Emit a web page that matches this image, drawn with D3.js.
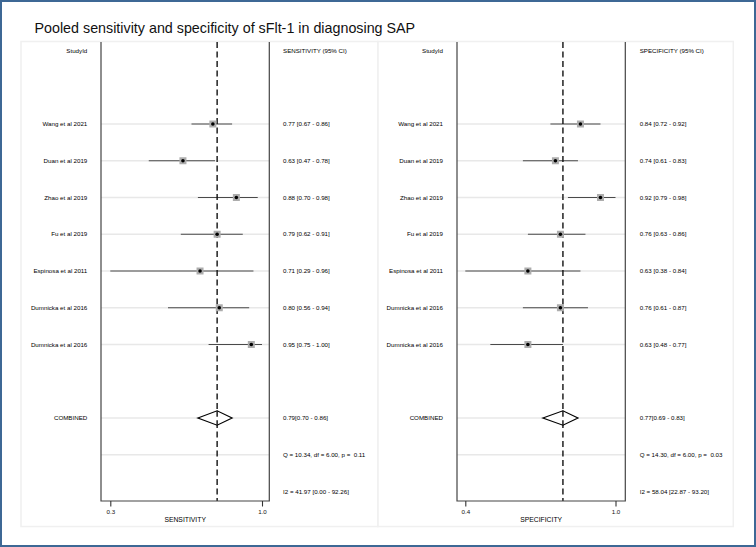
<!DOCTYPE html>
<html><head><meta charset="utf-8">
<script src="https://cdn.jsdelivr.net/npm/d3@7"></script>
<style>
body{margin:0;background:#fff;}
svg text{font-family:"Liberation Sans",Arial,Helvetica,sans-serif;white-space:pre;}
</style></head>
<body><svg id="c" width="756" height="547"></svg>
<script>
const studies = ["Wang et al 2021","Duan et al 2019","Zhao et al 2019","Fu et al 2019","Espinosa et al 2011","Dumnicka et al 2016","Dumnicka et al 2016"];
const sens   = [0.77,0.63,0.88,0.79,0.71,0.80,0.95];
const sensLo = [0.67,0.47,0.70,0.62,0.29,0.56,0.75];
const sensHi = [0.86,0.78,0.98,0.91,0.96,0.94,1.00];
const spec   = [0.84,0.74,0.92,0.76,0.63,0.76,0.63];
const specLo = [0.72,0.61,0.79,0.63,0.38,0.61,0.48];
const specHi = [0.92,0.83,0.98,0.86,0.84,0.87,0.77];
const sensPooled = [0.79,0.70,0.86];
const specPooled = [0.77,0.69,0.83];
const sensStats = ["Q = 10.34, df = 6.00, p =  0.11","I2 = 41.97 [0.00 - 92.26]"];
const specStats = ["Q = 14.30, df = 6.00, p =  0.03","I2 = 58.04 [22.87 - 93.20]"];
const sensTicks = [0.29,1.00];
const specTicks = [0.38,0.98];
const title = "Pooled sensitivity and specificity of sFlt-1 in diagnosing SAP";

const svg = d3.select("#c");
svg.append("rect").attr("x",1).attr("y",1).attr("width",754).attr("height",545)
  .attr("fill","#fff").attr("stroke","#3d6895").attr("stroke-width",2);
svg.append("text").attr("x",34.5).attr("y",33.3).attr("font-size",14.3).attr("fill","#111").text(title);

const f2 = d3.format(".2f");
const rowY = d3.scaleLinear().domain([0,12]).range([50.5,491.5]);

function panel(opt){
  const g = svg.append("g");
  g.append("rect").attr("x",opt.bx0).attr("y",41.5).attr("width",opt.bx1-opt.bx0).attr("height",485)
    .attr("fill","#fff").attr("stroke","#f0f0f0").attr("stroke-width",1.5);
  const x = d3.scaleLinear().domain(opt.ticks).range(opt.tickPx);
  const px0 = opt.px0, px1 = opt.px1, top = 42, bot = 501;
  const fs = 6.2;
  g.append("text").attr("x",opt.labX).attr("y",rowY(0)).attr("dy","0.35em").attr("text-anchor","end")
    .attr("font-size",fs).text("StudyId");
  g.append("text").attr("x",opt.txtX).attr("y",rowY(0)).attr("dy","0.35em")
    .attr("font-size",fs).text(opt.header);
  const gridRows = d3.range(2,9).concat([10,11]);
  g.selectAll(".grid").data(gridRows).join("line")
    .attr("x1",px0).attr("x2",px1).attr("y1",d=>rowY(d)).attr("y2",d=>rowY(d))
    .attr("stroke","#e8e8e8").attr("stroke-width",1.5);
  const data = studies.map((s,i)=>({s, v:opt.v[i], lo:opt.lo[i], hi:opt.hi[i], r:i+2}));
  g.selectAll(".lab").data(data).join("text")
    .attr("x",opt.labX).attr("y",d=>rowY(d.r)).attr("dy","0.35em").attr("text-anchor","end")
    .attr("font-size",fs).text(d=>d.s);
  g.selectAll(".ci").data(data).join("text")
    .attr("x",opt.txtX).attr("y",d=>rowY(d.r)).attr("dy","0.35em")
    .attr("font-size",fs).text(d=>`${f2(d.v)} [${f2(d.lo)} - ${f2(d.hi)}]`);
  g.selectAll(".ciline").data(data).join("line")
    .attr("x1",d=>x(d.lo)).attr("x2",d=>x(d.hi)).attr("y1",d=>rowY(d.r)).attr("y2",d=>rowY(d.r))
    .attr("stroke","#4a4a4a").attr("stroke-width",1.1);
  g.append("line").attr("x1",x(opt.pooled[0])).attr("x2",x(opt.pooled[0])).attr("y1",top).attr("y2",bot)
    .attr("stroke","#111").attr("stroke-width",1.4).attr("stroke-dasharray","6,3.5");
  g.selectAll(".sq").data(data).join("rect")
    .attr("x",d=>x(d.v)-3.5).attr("y",d=>rowY(d.r)-3.5).attr("width",7).attr("height",7)
    .attr("fill","#adadad");
  g.selectAll(".dot").data(data).join("circle")
    .attr("cx",d=>x(d.v)).attr("cy",d=>rowY(d.r)).attr("r",1.8).attr("fill","#000");
  const cy = rowY(10), p = opt.pooled;
  g.append("path").attr("d",`M${x(p[1])},${cy} L${x(p[0])},${cy-7.2} L${x(p[2])},${cy} L${x(p[0])},${cy+7.2} Z`)
    .attr("fill","#fff").attr("stroke","#000").attr("stroke-width",1.2);
  g.append("line").attr("x1",x(p[0])).attr("x2",x(p[0])).attr("y1",cy-7.2).attr("y2",cy+7.2)
    .attr("stroke","#111").attr("stroke-width",1.4).attr("stroke-dasharray","6,3.5");
  g.append("text").attr("x",opt.labX).attr("y",cy).attr("dy","0.35em").attr("text-anchor","end")
    .attr("font-size",fs).text("COMBINED");
  g.append("text").attr("x",opt.txtX).attr("y",cy).attr("dy","0.35em")
    .attr("font-size",fs).text(`${f2(p[0])}[${f2(p[1])} - ${f2(p[2])}]`);
  g.append("text").attr("x",opt.txtX).attr("y",rowY(11)).attr("dy","0.35em")
    .attr("font-size",fs).text(opt.stats[0]);
  g.append("text").attr("x",opt.txtX).attr("y",rowY(12)).attr("dy","0.35em")
    .attr("font-size",fs).text(opt.stats[1]);
  g.append("path").attr("d",`M${px0},${top} V${bot} H${px1} V${top}`)
    .attr("fill","none").attr("stroke","#444").attr("stroke-width",1.2);
  const ax = g.append("g").attr("transform",`translate(0,${bot})`)
    .call(d3.axisBottom(x).tickValues(opt.ticks).tickFormat(d3.format(".1f")).tickSize(5.5).tickPadding(3));
  ax.select(".domain").remove();
  ax.selectAll(".tick line").attr("stroke","#333").attr("stroke-width",1.1);
  ax.selectAll(".tick text").attr("font-size",fs).attr("fill","#111")
    .attr("font-family","\"Liberation Sans\",Arial,sans-serif");
  g.append("text").attr("x",(px0+px1)/2).attr("y",519.7).attr("dy","0.35em").attr("text-anchor","middle")
    .attr("font-size",6.8).text(opt.axisTitle);
}

panel({bx0:21, bx1:378, px0:101, px1:269.3, tickPx:[110.3,262], ticks:sensTicks,
  labX:87.3, txtX:283, header:"SENSITIVITY (95% CI)", axisTitle:"SENSITIVITY",
  v:sens, lo:sensLo, hi:sensHi, pooled:sensPooled, stats:sensStats});
panel({bx0:378, bx1:733.3, px0:457, px1:625.3, tickPx:[465.3,615.5], ticks:specTicks,
  labX:443, txtX:639.7, header:"SPECIFICITY (95% CI)", axisTitle:"SPECIFICITY",
  v:spec, lo:specLo, hi:specHi, pooled:specPooled, stats:specStats});
</script></body></html>
